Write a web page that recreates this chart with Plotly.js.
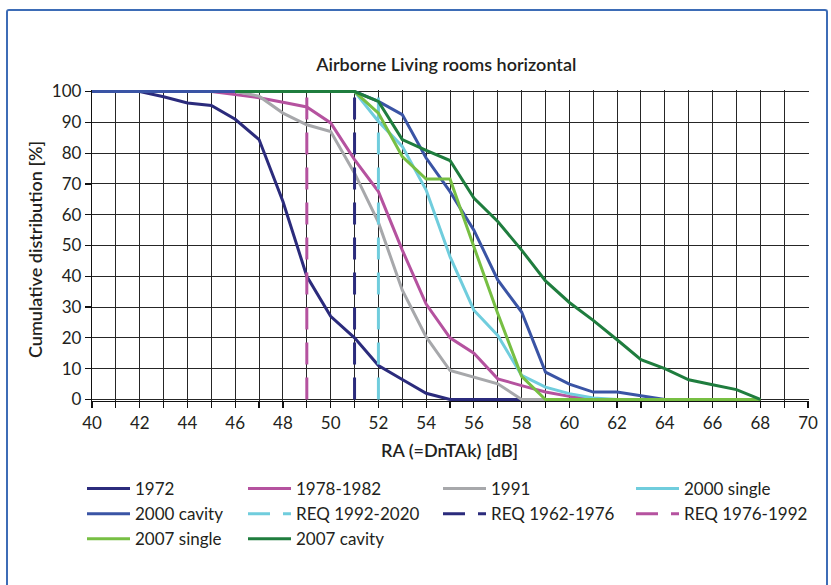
<!DOCTYPE html>
<html>
<head>
<meta charset="utf-8">
<script src="https://cdn.plot.ly/plotly-3.0.1.min.js"></script>
<style>
  html, body { margin: 0; padding: 0; background: #fff; }
  #wrap { position: relative; width: 831px; height: 585px; overflow: hidden; }
  #chart { position: absolute; left: 0; top: 0; width: 831px; height: 585px; }
  #frame { position: absolute; left: 6px; top: 9px; width: 818px; height: 600px;
           border: 2px solid #3D6CB6; border-bottom: none; border-radius: 3px 3px 0 0;
           pointer-events: none; }
</style>
</head>
<body>
<div id="wrap">
  <div id="chart"></div>
  <div id="frame"></div>
</div>
<script>
// ---- data ----
const x1972 = [40,41,42,43,44,45,46,47,48,49,50,51,52,53,54,55,56,57,58];
const y1972 = [100,100,100,98.3,96.3,95.5,91,84.4,64.3,40,27,20,11,6.5,2,0,0,0,0];

const x1978 = [40,41,42,43,44,45,46,47,48,49,50,51,52,53,54,55,56,57,58,59,60,61];
const y1978 = [100,100,100,100,100,100,99,98,96.5,95,89.8,77.9,67.5,48.5,31,20,15,6.7,4.5,2.4,1,0];

const x1991 = [40,41,42,43,44,45,46,47,48,49,50,51,52,53,54,55,56,57,58,59];
const y1991 = [100,100,100,100,100,100,100,98.5,93,89.2,87,73.5,57.5,35.5,20.3,9.4,7.3,5.1,0,0];

const x2000s = [40,41,42,43,44,45,46,47,48,49,50,51,52,53,54,55,56,57,58,59,60,61,62];
const y2000s = [100,100,100,100,100,100,100,100,100,100,100,100,90.3,82.2,68,46.4,29,20.8,7.8,4,1.9,0.5,0];

const x2000c = [40,41,42,43,44,45,46,47,48,49,50,51,52,53,54,55,56,57,58,59,60,61,62,63,64];
const y2000c = [100,100,100,100,100,100,100,100,100,100,100,100,96.8,92.5,78.4,67.5,55,38.8,28.4,8.9,5,2.4,2.4,1.2,0];

const xReq1992 = [52,52];
const xReq1962 = [51,51];
const xReq1976 = [49,49];
const yReq = [0,100];

const x2007s = [46,47,48,49,50,51,52,53,54,55,56,57,58,59,60,61,62,63,64,65,66,67,68];
const y2007s = [100,100,100,100,100,100,93,78.9,71.6,71.6,49.6,27.9,7.5,0,0,0,0,0,0,0,0,0,0];

const x2007c = [46,47,48,49,50,51,52,53,54,55,56,57,58,59,60,61,62,63,64,65,66,67,68];
const y2007c = [100,100,100,100,100,100,96.8,84.4,80.9,77.6,65.4,57.8,48.5,38.5,31.5,25.7,19.4,12.9,10,6.4,4.8,3.2,0];

const xTicks = [40,42,44,46,48,50,52,54,56,58,60,62,64,66,68,70];
const yTicks = [0,10,20,30,40,50,60,70,80,90,100];

const names = ['1972','1978-1982','1991','2000 single','2000 cavity',
               'REQ 1992-2020','REQ 1962-1976','REQ 1976-1992','2007 single','2007 cavity'];

// ---- styling ----
const cNavy = '#2B2B7C', cMag = '#B5529F', cGrey = '#A7A8AB', cCyan = '#70CDDD',
      cBlue = '#3A54A5', cLGreen = '#77BF43', cDGreen = '#1F7D3E';
const W = 3;
const DASH = '22px,13px';
const FONT = 'Lato, "Open Sans", sans-serif';
const TXT = '#231F20';
const GRID = '#262626';

function tr(x, y, name, color, dash, legend) {
  return {x: x, y: y, name: name, type: 'scatter', mode: 'lines',
          line: {color: color, width: W, dash: dash || 'solid'},
          legend: legend, hoverinfo: 'skip'};
}

const data = [
  tr(x1972, y1972, names[0], cNavy, null, 'legend'),
  tr(x1978, y1978, names[1], cMag, null, 'legend2'),
  tr(x1991, y1991, names[2], cGrey, null, 'legend3'),
  tr(x2000s, y2000s, names[3], cCyan, null, 'legend4'),
  tr(x2000c, y2000c, names[4], cBlue, null, 'legend'),
  tr(xReq1992, yReq, names[5], cCyan, DASH, 'legend2'),
  tr(xReq1962, yReq, names[6], cNavy, DASH, 'legend3'),
  tr(xReq1976, yReq, names[7], cMag, DASH, 'legend4'),
  tr(x2007s, y2007s, names[8], cLGreen, null, 'legend'),
  tr(x2007c, y2007c, names[9], cDGreen, null, 'legend2')
];

function leg(xpx) {
  return {x: xpx / 831, y: 1 - 471 / 585, xref: 'container', yref: 'container',
          xanchor: 'left', yanchor: 'top', orientation: 'v',
          bgcolor: 'rgba(0,0,0,0)', borderwidth: 0, itemwidth: 43,
          traceorder: 'normal',
          font: {family: FONT, size: 17, color: TXT}};
}

const layout = {
  width: 831, height: 585,
  margin: {l: 92, r: 22, t: 90, b: 184, autoexpand: false},
  paper_bgcolor: '#fff', plot_bgcolor: '#fff',
  showlegend: true,
  title: {text: 'Airborne Living rooms horizontal', x: 0.537, xanchor: 'center',
          y: 1 - 65 / 585, yanchor: 'middle',
          font: {family: FONT, size: 18, color: TXT, weight: 600}},
  font: {family: FONT, color: TXT},
  xaxis: {
    range: [40, 70.04], tickvals: xTicks, ticktext: xTicks.map(String),
    showgrid: true, gridcolor: GRID, gridwidth: 1,
    showline: true, linecolor: '#111', linewidth: 1.2,
    ticks: 'outside', ticklen: 6, tickcolor: '#111', tickwidth: 1.2,
    zeroline: false,
    tickfont: {family: FONT, size: 17, color: TXT},
    minor: {dtick: 1, tick0: 40, showgrid: true, gridcolor: GRID, gridwidth: 1,
            ticks: 'outside', ticklen: 6, tickcolor: '#111', tickwidth: 1.2}
  },
  yaxis: {
    range: [-0.5, 100.5], tickvals: yTicks, ticktext: yTicks.map(String),
    showgrid: true, gridcolor: GRID, gridwidth: 1,
    showline: true, linecolor: '#111', linewidth: 1.2,
    ticks: 'outside', ticklen: 6, tickcolor: '#111', tickwidth: 1.2,
    zeroline: false,
    tickfont: {family: FONT, size: 17, color: TXT}
  },
  annotations: [
    {text: 'RA (=DnTAk) [dB]', xref: 'paper', yref: 'paper',
     x: (449 - 92) / 717, y: 1 - (450 - 90) / 311, xanchor: 'center', yanchor: 'middle',
     showarrow: false, font: {family: FONT, size: 18, color: TXT, weight: 600}},
    {text: 'Cumulative distribution [%]', xref: 'paper', yref: 'paper',
     x: (35 - 92) / 717, y: 1 - (250 - 90) / 311, xanchor: 'center', yanchor: 'middle',
     textangle: -90, showarrow: false,
     font: {family: FONT, size: 18, color: TXT, weight: 600}}
  ],
  legend: leg(82),
  legend2: leg(243),
  legend3: leg(438),
  legend4: leg(631)
};

Plotly.newPlot('chart', data, layout, {staticPlot: true, displayModeBar: false});
</script>
</body>
</html>
